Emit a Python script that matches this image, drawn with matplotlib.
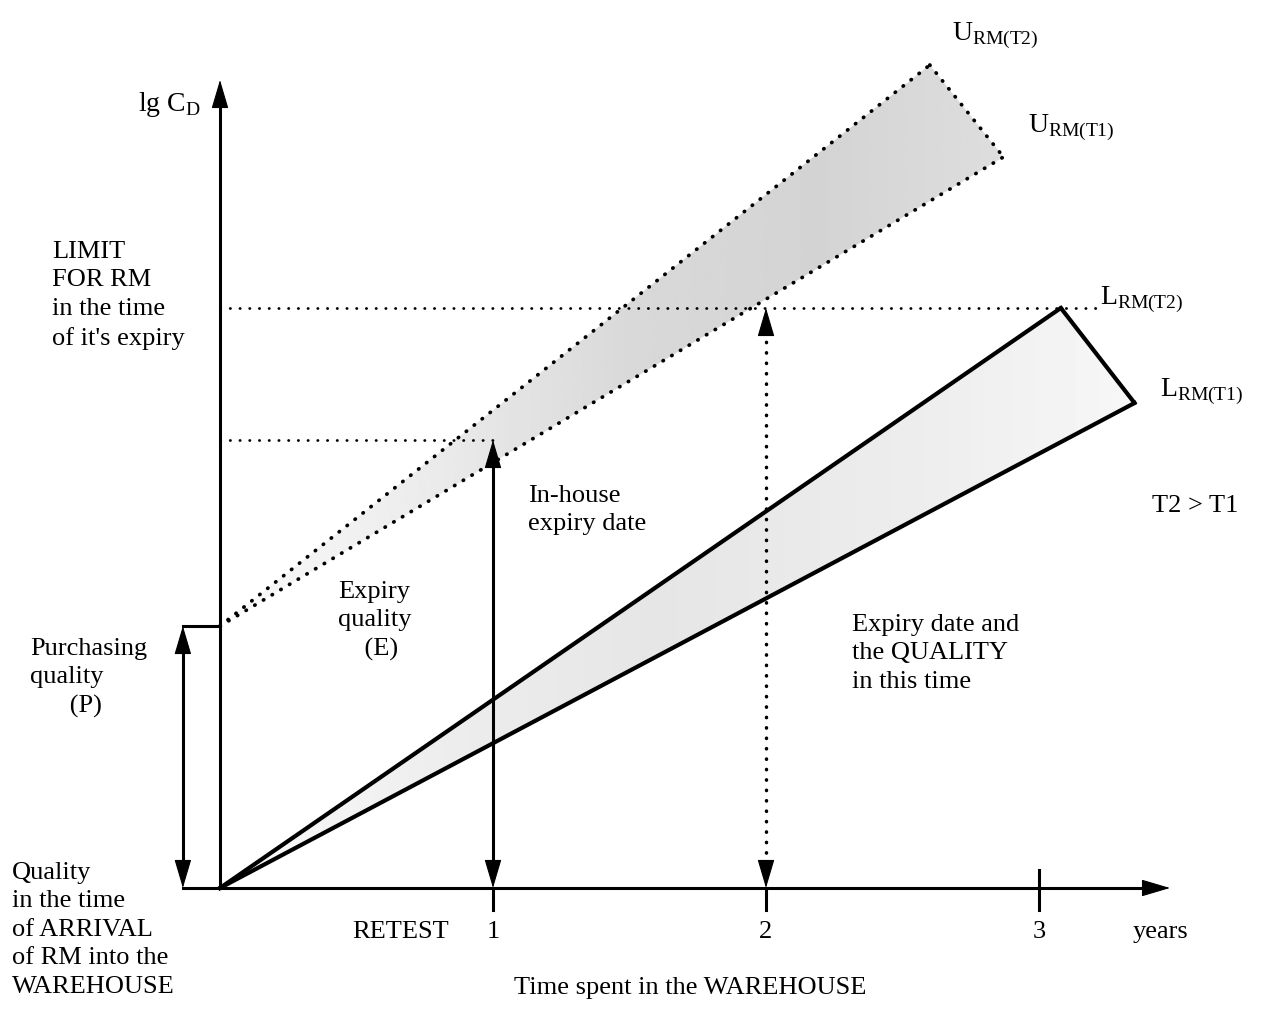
import numpy as np
import matplotlib
matplotlib.use("Agg")
import matplotlib.pyplot as plt
from matplotlib.patches import Polygon

plt.rcParams['font.family'] = ['Liberation Serif', 'DejaVu Serif']
plt.rcParams['mathtext.fontset'] = 'custom'
plt.rcParams['mathtext.rm'] = 'Liberation Serif'

# time axis (years) and quality levels (lg C_D, arbitrary units)
year_ticks = [1, 2, 3]
retest_year = 1
expiry_year = 2
purchasing_q = 2.62
expiry_q = 4.48
limit_q = 5.80

# upper limits for the raw material (dotted band), start at purchasing quality
u_t2_x = [0.0, 2.60]
u_t2_y = [2.62, 8.23]
u_t1_x = [0.0, 2.87]
u_t1_y = [2.62, 7.31]

# lower limits (solid band), start at the origin
l_t2_x = [0.0, 3.08]
l_t2_y = [0.0, 5.80]
l_t1_x = [0.0, 3.35]
l_t1_y = [0.0, 4.85]

x_axis_end = 3.48
x_axis_start = -0.136
y_axis_top = 8.08
limit_line_end = 3.21

# page layout: pixels per unit
X0, SX = 220, 273
Y0, SY = 888, 100
W, H = 1276, 1009


def at(px, py):
    return (px - X0) / SX, (Y0 - py) / SY


fig = plt.figure(figsize=(W / 100, H / 100), dpi=100)
ax = fig.add_axes([0, 0, 1, 1])
ax.set_xlim(-X0 / SX, (W - X0) / SX)
ax.set_ylim((Y0 - H) / SY, Y0 / SY)
ax.axis('off')

dots = dict(color='k', lw=2.7, linestyle=(0, (0.1, 2.6)), dash_capstyle='round')
fine_dots = dict(color='k', lw=2.0, linestyle=(0, (0.1, 3.4)), dash_capstyle='round')


def head(x, y, dx, dy):
    ax.annotate('', xy=(x, y), xytext=(x - dx, y - dy),
                arrowprops=dict(arrowstyle='-|>,head_length=1.15,head_width=0.34',
                                fc='k', ec='k', lw=0.8, mutation_scale=16,
                                shrinkA=0, shrinkB=0), zorder=4)


def shade(xs, ys, stops, levels):
    poly = Polygon(np.column_stack([xs, ys]), closed=True, fc='none', ec='none')
    ax.add_patch(poly)
    gx = np.linspace(min(xs), max(xs), 300)
    g = np.interp(gx, stops, levels)[None, :]
    im = ax.imshow(g, extent=(min(xs), max(xs), min(ys), max(ys)), cmap='gray',
                   vmin=0, vmax=1, aspect='auto', interpolation='bilinear', zorder=1)
    im.set_clip_path(poly)


# shaded bands
ux = [u_t2_x[0], u_t2_x[1], u_t1_x[1], u_t1_x[0]]
uy = [u_t2_y[0], u_t2_y[1], u_t1_y[1], u_t1_y[0]]
shade(ux, uy, [0, 0.8, 1.5, 2.2, 2.9], [0.98, 0.92, 0.85, 0.83, 0.87])
lx = [l_t2_x[0], l_t2_x[1], l_t1_x[1], l_t1_x[0]]
ly = [l_t2_y[0], l_t2_y[1], l_t1_y[1], l_t1_y[0]]
shade(lx, ly, [0, 0.8, 1.6, 2.6, 3.4], [0.98, 0.93, 0.9, 0.93, 0.97])

# axes
lw_ax = 2.2
ax.plot([x_axis_start, x_axis_end - 0.05], [0, 0], color='k', lw=lw_ax, zorder=3)
head(x_axis_end, 0, 0.1, 0)
ax.plot([0, 0], [0, y_axis_top - 0.1], color='k', lw=lw_ax, zorder=3)
head(0, y_axis_top, 0, 0.1)
for t in year_ticks:
    lo = -0.22
    hi = 0.18 if t == 3 else 0
    ax.plot([t, t], [lo, hi], color='k', lw=lw_ax, zorder=3)

# upper dotted band
ax.plot(u_t2_x, u_t2_y, zorder=3, **dots)
ax.plot(u_t1_x, u_t1_y, zorder=3, **dots)
ax.plot([u_t2_x[1], u_t1_x[1]], [u_t2_y[1], u_t1_y[1]], zorder=3, **dots)

# lower solid band
lw_band = 3.0
ax.plot(l_t2_x, l_t2_y, color='k', lw=lw_band, zorder=3)
ax.plot(l_t1_x, l_t1_y, color='k', lw=lw_band, zorder=3)
ax.plot([l_t2_x[1], l_t1_x[1]], [l_t2_y[1], l_t1_y[1]], color='k', lw=lw_band,
        zorder=3, solid_capstyle='round')

# reference levels
ax.plot([0, limit_line_end], [limit_q, limit_q], zorder=2, **fine_dots)
ax.plot([0, retest_year], [expiry_q, expiry_q], zorder=2, **fine_dots)

# purchasing quality bracket
px_left = x_axis_start
ax.plot([px_left, 0], [purchasing_q, purchasing_q], color='k', lw=lw_ax)
ax.plot([px_left, px_left], [0.2, purchasing_q - 0.2], color='k', lw=lw_ax)
head(px_left, purchasing_q, 0, 0.1)
head(px_left, 0, 0, -0.1)

# retest arrow (solid)
ax.plot([retest_year, retest_year], [0.2, expiry_q - 0.2], color='k', lw=lw_ax, zorder=3)
head(retest_year, expiry_q, 0, 0.1)
head(retest_year, 0, 0, -0.1)

# expiry arrow (dotted)
ax.plot([expiry_year, expiry_year], [0.25, limit_q - 0.25], zorder=3,
        color='k', lw=2.5, linestyle=(0, (0.1, 2.9)), dash_capstyle='round')
head(expiry_year, limit_q, 0, 0.1)
head(expiry_year, 0, 0, -0.1)

# text
fs = 19
ls = 1.38
ax.text(*at(138, 111), r'lg C$_{\rm D}$', fontsize=20, va='baseline')
ax.text(*at(52, 241), "LIMIT\nFOR RM\nin the time\nof it's expiry",
        fontsize=fs, va='top', linespacing=ls)
ax.text(*at(30, 638), "Purchasing\nquality\n      (P)", fontsize=fs, va='top',
        linespacing=ls)
ax.text(*at(12, 862), "Quality\nin the time\nof ARRIVAL\nof RM into the\nWAREHOUSE",
        fontsize=fs, va='top', linespacing=ls)
ax.text(*at(338, 581), "Expiry\nquality\n    (E)", fontsize=fs, va='top',
        linespacing=ls)
ax.text(*at(528, 485), "In-house\nexpiry date", fontsize=fs, va='top',
        linespacing=ls)
ax.text(*at(852, 614), "Expiry date and\nthe QUALITY\nin this time", fontsize=fs,
        va='top', linespacing=ls)
ax.text(*at(1152, 512), "T2 > T1", fontsize=fs, va='baseline')
ax.text(*at(352, 938), "RETEST", fontsize=fs, va='baseline')
for t in year_ticks:
    ax.text(t, at(0, 938)[1], str(t), fontsize=fs, va='baseline', ha='center')
ax.text(*at(1133, 938), "years", fontsize=fs, va='baseline')
ax.text(*at(690, 994), "Time spent in the WAREHOUSE", fontsize=fs, va='baseline',
        ha='center')

ax.text(*at(952, 40), r'U$_{\rm RM(T2)}$', fontsize=20, va='baseline')
ax.text(*at(1028, 132), r'U$_{\rm RM(T1)}$', fontsize=20, va='baseline')
ax.text(*at(1100, 304), r'L$_{\rm RM(T2)}$', fontsize=20, va='baseline')
ax.text(*at(1160, 396), r'L$_{\rm RM(T1)}$', fontsize=20, va='baseline')

fig.savefig('out.png', dpi=100)
